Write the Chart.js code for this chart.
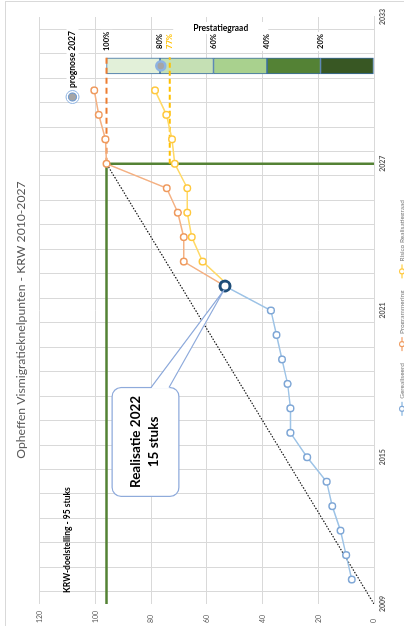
<!DOCTYPE html>
<html>
<head>
<meta charset="utf-8">
<script src="https://cdn.jsdelivr.net/npm/chart.js@4.4.1/dist/chart.umd.min.js"></script>
<style>
  html, body { margin: 0; padding: 0; width: 404px; height: 626px; overflow: hidden; background: #fff; }
  #frame { position: absolute; left: 5px; top: 1px; width: 440px; height: 660px;
           border-left: 1px solid #d9d9d9; border-top: 1px solid #d9d9d9; }
  /* the chart is drawn upright, then turned a quarter to the left */
  #wrap { position: absolute; left: 0; top: 626px; width: 626px; height: 412px;
          transform-origin: 0 0; transform: rotate(-90deg); }
</style>
</head>
<body>
<div id="frame"></div>
<div id="wrap"><canvas id="chart" width="626" height="412"></canvas></div>
<script>
// ---- data ----
const realYears   = [2010, 2011, 2012, 2013, 2014, 2015, 2016, 2017, 2018, 2019, 2020, 2021, 2022];
const realValues  = [8, 10, 12, 15, 17, 24, 30, 30, 31, 33, 35, 37, 53.5];

const planYears   = [2022, 2023, 2024, 2025, 2026, 2027, 2028, 2029, 2030];
const planValues  = [53.5, 68.3, 68.3, 70.4, 74.4, 96, 96.4, 98.8, 100.4];
const riskValues  = [52, 61.5, 65.4, 67, 67, 71.5, 72.5, 74.5, 78.6];

const targetYears  = [2009, 2027, 2027];
const targetValues = [96, 96, 0];
const trendYears   = [2009, 2027];
const trendValues  = [0, 96];

const levelYears   = [2027, 2031.35];
const fullLevel    = [96, 96];
const riskLevel    = [73.3, 73.3];
const riskLabel    = '77%';

const barYear      = 2031;
const barBounds    = [96, 76.8, 57.6, 38.4, 19.2, 0];
const pctLabels    = ['100%', '80%', '60%', '40%', '20%'];
const pctValues    = [96, 76.8, 57.6, 38.4, 19.2];

const prognoseYear  = 2031;
const prognoseValue = 76.5;

const yearMin = 2009, yearMax = 2033, yearLabelStep = 6;
const valueMin = 0, valueMax = 120, valueStep = 20;

const legendNames = ['Gerealiseerd', 'Programmering', 'Risico Realisatiegraad'];

// ---- styles ----
const barColors = ['#e2f0d9', '#c5e0b4', '#a9d18e', '#548235', '#385723'];
const blue = '#9dc3e6', blueMark = '#7fa7d6', darkBlue = '#1f4e79';
const orange = '#f4b183', orangeMark = '#ef9a5e', orangeDash = '#ed7d31';
const yellow = '#ffd966', yellowMark = '#ffc83d', yellowDash = '#ffc000';
const green = '#548235';
const FONT = 'Lato, "Open Sans", sans-serif';

Chart.defaults.font.family = FONT;

const pts = (xs, ys) => xs.map((x, i) => ({ x: x, y: ys[i] }));
const lastIdx = realValues.length - 1;

const barSets = barColors.map((c, i) => ({
    type: 'bar',
    data: [{ x: barYear, y: [barBounds[i + 1], barBounds[i]] }],
    backgroundColor: c,
    borderColor: '#3a6ea5',
    borderWidth: 1,
    borderSkipped: false,
    barThickness: 16,
    grouped: false,
    order: 20
}));

// ---- extra marks: labels, callout, legend ----
const extras = {
    id: 'extras',
    afterDatasetsDraw(chart) {
        const ctx = chart.ctx;
        const xs = chart.scales.x, ys = chart.scales.y;

        function boxedText(txt, x, y, font, color, align) {
            ctx.save();
            ctx.font = font;
            const w = ctx.measureText(txt).width;
            const left = align === 'left' ? x : x - w / 2;
            ctx.fillStyle = '#fff';
            ctx.fillRect(left - 2, y - 6, w + 4, 12);
            ctx.fillStyle = color;
            ctx.textAlign = align || 'center';
            ctx.textBaseline = 'middle';
            ctx.fillText(txt, x, y);
            ctx.restore();
        }

        // percentage labels above the bar
        const lx = xs.getPixelForValue(2032);
        pctLabels.forEach((t, i) => boxedText(t, lx, ys.getPixelForValue(pctValues[i]), 'bold 7.5px ' + FONT, '#000'));
        boxedText(riskLabel, lx, ys.getPixelForValue(riskLevel[0]), 'bold 7.5px ' + FONT, yellowDash);

        // "Prestatiegraad", turned to read along the bar
        ctx.save();
        ctx.translate(xs.getPixelForValue(2032.55), ys.getPixelForValue(55));
        ctx.rotate(Math.PI / 2);
        ctx.font = 'bold 8.5px ' + FONT;
        const pw = ctx.measureText('Prestatiegraad').width;
        ctx.fillStyle = '#fff';
        ctx.fillRect(-pw / 2 - 20, -6, pw + 40, 12);
        ctx.fillStyle = '#000';
        ctx.textAlign = 'center';
        ctx.textBaseline = 'middle';
        ctx.fillText('Prestatiegraad', 0, 0);
        ctx.restore();

        // "prognose 2027" key
        const kx = xs.getPixelForValue(2029.73), ky = ys.getPixelForValue(108.2);
        boxedText('prognose 2027', kx + 9, ky, 'bold 8.5px ' + FONT, '#000', 'left');
        ctx.save();
        ctx.beginPath(); ctx.arc(kx, ky, 6.5, 0, Math.PI * 2);
        ctx.fillStyle = '#fff'; ctx.fill();
        ctx.lineWidth = 1; ctx.strokeStyle = '#8db3e2'; ctx.stroke();
        ctx.beginPath(); ctx.arc(kx, ky, 4, 0, Math.PI * 2);
        ctx.fillStyle = '#a5a5a5'; ctx.fill();
        ctx.lineWidth = 1.2; ctx.strokeStyle = '#6f9bd1'; ctx.stroke();
        ctx.restore();

        // target text
        ctx.save();
        ctx.font = 'bold 8.5px ' + FONT;
        ctx.fillStyle = '#000';
        ctx.textBaseline = 'middle';
        ctx.fillText('KRW-doelstelling - 95 stuks', xs.getPixelForValue(2009.45), ys.getPixelForValue(110));
        ctx.restore();

        // callout "Realisatie 2022"
        const bx0 = xs.getPixelForValue(2013.4), bx1 = xs.getPixelForValue(2017.85);
        const by0 = ys.getPixelForValue(94), by1 = ys.getPixelForValue(70);
        const tipX = xs.getPixelForValue(realYears[lastIdx]) - 4;
        const tipY = ys.getPixelForValue(realValues[lastIdx]) - 1;
        ctx.save();
        ctx.lineWidth = 1.2;
        ctx.strokeStyle = '#8eaadb';
        ctx.fillStyle = '#fff';
        ctx.beginPath();
        ctx.roundRect(bx0, by0, bx1 - bx0, by1 - by0, 9);
        ctx.fill(); ctx.stroke();
        ctx.beginPath();
        ctx.moveTo(bx1 - 1, by0 + 39);
        ctx.lineTo(tipX, tipY);
        ctx.lineTo(bx1 - 1, by0 + 57);
        ctx.closePath();
        ctx.fill();
        ctx.beginPath();
        ctx.moveTo(bx1, by0 + 39); ctx.lineTo(tipX, tipY); ctx.lineTo(bx1, by0 + 57);
        ctx.stroke();
        ctx.fillStyle = '#000';
        ctx.font = 'bold 13.5px ' + FONT;
        ctx.textAlign = 'center';
        ctx.textBaseline = 'middle';
        const cx = (bx0 + bx1) / 2;
        ctx.fillText('Realisatie 2022', cx, by0 + 24);
        ctx.fillText('15 stuks', cx, by0 + 42);
        ctx.restore();

        // legend along the bottom edge
        const keys = [[blue, blueMark], [orange, orangeMark], [yellow, yellowMark]];
        ctx.save();
        ctx.font = '6.5px ' + FONT;
        let total = 0;
        const widths = legendNames.map(n => ctx.measureText(n).width);
        widths.forEach(w => { total += 14 + 3 + w; });
        total += 12 * (legendNames.length - 1);
        let lxp = 318 - total / 2;
        const lyp = 402;
        legendNames.forEach((n, i) => {
            ctx.strokeStyle = keys[i][0]; ctx.lineWidth = 1.5;
            ctx.beginPath(); ctx.moveTo(lxp, lyp); ctx.lineTo(lxp + 14, lyp); ctx.stroke();
            ctx.beginPath(); ctx.arc(lxp + 7, lyp, 2.5, 0, Math.PI * 2);
            ctx.fillStyle = '#fff'; ctx.fill();
            ctx.strokeStyle = keys[i][1]; ctx.lineWidth = 1.2; ctx.stroke();
            ctx.fillStyle = '#7f7f7f';
            ctx.textBaseline = 'middle';
            ctx.fillText(n, lxp + 17, lyp);
            lxp += 17 + widths[i] + 12;
        });
        ctx.restore();
    }
};

new Chart(document.getElementById('chart'), {
    type: 'line',
    data: {
        datasets: [
            {   // realised, ends in the big ring for 2022
                data: pts(realYears, realValues),
                borderColor: blue, borderWidth: 1.5,
                pointBackgroundColor: '#fff',
                pointBorderColor: realValues.map((v, i) => i === lastIdx ? darkBlue : blueMark),
                pointBorderWidth: realValues.map((v, i) => i === lastIdx ? 3 : 1.5),
                pointRadius: realValues.map((v, i) => i === lastIdx ? 5 : 3.3),
                order: 1
            },
            {
                data: pts(planYears, planValues),
                borderColor: orange, borderWidth: 1.5,
                pointBackgroundColor: '#fff', pointBorderColor: orangeMark, pointBorderWidth: 1.5,
                pointRadius: planValues.map((v, i) => i === 0 ? 0 : 3.3),
                order: 3
            },
            {
                data: pts(planYears, riskValues),
                borderColor: yellow, borderWidth: 1.5,
                pointBackgroundColor: '#fff', pointBorderColor: yellowMark, pointBorderWidth: 1.5,
                pointRadius: riskValues.map((v, i) => i === 0 ? 0 : 3.3),
                order: 4
            },
            {
                data: pts(levelYears, fullLevel),
                borderColor: orangeDash, borderWidth: 2, borderDash: [6, 4],
                pointRadius: 0, order: 6
            },
            {
                data: pts(levelYears, riskLevel),
                borderColor: yellowDash, borderWidth: 2, borderDash: [5, 3],
                pointRadius: 0, order: 6
            },
            {
                data: pts(targetYears, targetValues),
                borderColor: green, borderWidth: 2.5,
                pointRadius: 0, order: 7
            },
            {
                data: pts(trendYears, trendValues),
                borderColor: '#1a1a1a', borderWidth: 1.2, borderDash: [1.5, 1.5],
                pointRadius: 0, order: 8
            },
            {   // prognose 2027 marker on the bar
                data: [{ x: prognoseYear, y: prognoseValue }],
                showLine: false,
                pointRadius: 4.5, pointBackgroundColor: '#a5a5a5',
                pointBorderColor: '#8db3e2', pointBorderWidth: 2.5,
                order: 0
            },
            ...barSets
        ]
    },
    options: {
        responsive: false,
        animation: false,
        events: [],
        layout: { padding: { left: 3, right: 17, top: 0, bottom: 0 } },
        plugins: {
            legend: { display: false },
            tooltip: { enabled: false },
            title: {
                display: true,
                text: 'Opheffen Vismigratieknelpunten - KRW 2010-2027',
                color: '#595959',
                font: { size: 12.2, weight: 'normal' },
                padding: { top: 13.5, bottom: 11.5 }
            }
        },
        scales: {
            x: {
                type: 'linear', min: yearMin, max: yearMax, offset: false,
                grid: { color: '#d9d9d9', drawTicks: false },
                border: { color: '#d9d9d9' },
                ticks: {
                    stepSize: 1, autoSkip: false, maxRotation: 0, padding: 5,
                    color: '#595959', font: { size: 7, weight: 'bold' },
                    callback: v => (v - yearMin) % yearLabelStep === 0 ? String(v) : ''
                },
                afterFit: s => { s.height = 38; }
            },
            y: {
                min: valueMin, max: valueMax,
                grid: { color: '#d9d9d9', drawTicks: false },
                border: { display: false },
                ticks: { stepSize: valueStep, crossAlign: 'far', color: '#595959', font: { size: 7 } },
                afterFit: s => { s.width = 19; }
            }
        }
    },
    plugins: [extras]
});
</script>
</body>
</html>
